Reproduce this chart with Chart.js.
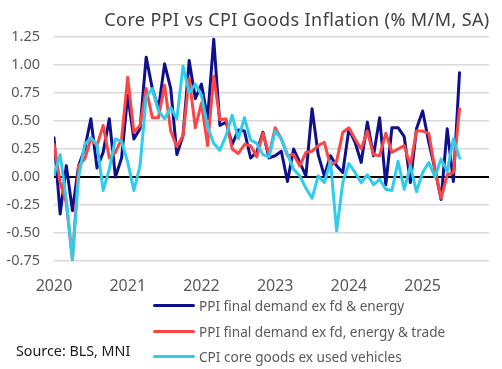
<!DOCTYPE html>
<html>
<head>
<meta charset="utf-8">
<script src="https://cdn.jsdelivr.net/npm/chart.js@4"></script>
<style>
  html, body { margin: 0; padding: 0; background: #fff; }
  #wrap { position: relative; width: 502px; height: 369px; font-family: "Noto Sans", sans-serif; }
  #title { position: absolute; left: 297px; top: 7px; transform: translateX(-50%); white-space: nowrap;
           font-size: 18px; letter-spacing: 0.4px; color: #404040; }
  #legend { position: absolute; left: 153px; top: 293px; }
  .row { display: flex; align-items: center; height: 25.5px; font-size: 13.6px; color: #595959; white-space: nowrap; }
  .swatch { width: 42px; height: 3px; margin-right: 4px; border-radius: 1.5px; }
  #source { position: absolute; left: 16px; top: 341px; font-size: 14.3px; color: #1a1a1a; white-space: nowrap; }
</style>
</head>
<body>
<div id="wrap">
  <canvas id="chart" width="502" height="369"></canvas>
  <div id="title">Core PPI vs CPI Goods Inflation (% M/M, SA)</div>
  <div id="legend"></div>
  <div id="source">Source: BLS, MNI</div>
</div>
<script>
// monthly, Jan 2020 .. Jul 2025
const years = ['2020', '2021', '2022', '2023', '2024', '2025'];

const ppiCore = [
  0.35, -0.33, 0.10, -0.30, 0.10, 0.25, 0.52, 0.08, 0.22, 0.52, 0.00, 0.17,
  0.73, 0.34, 0.43, 1.07, 0.79, 0.61, 1.01, 0.79, 0.20, 0.37, 1.04, 0.70,
  0.83, 0.52, 1.23, 0.46, 0.49, 0.29, 0.42, 0.41, 0.17, 0.22, 0.40, 0.17,
  0.19, 0.23, -0.04, 0.25, 0.13, 0.01, 0.61, 0.20, 0.01, 0.19, 0.10, 0.04,
  0.43, 0.31, 0.13, 0.49, 0.19, 0.53, -0.07, 0.44, 0.44, 0.36, -0.05, 0.43,
  0.59, 0.31, 0.07, -0.20, 0.43, -0.04, 0.93
];
const ppiExTrade = [
  0.29, -0.05, -0.23, -0.74, 0.10, 0.16, 0.34, 0.28, 0.46, 0.17, 0.22, 0.34,
  0.89, 0.40, 0.46, 0.79, 0.53, 0.53, 0.82, 0.41, 0.27, 0.37, 0.88, 0.44,
  0.66, 0.28, 0.90, 0.51, 0.52, 0.25, 0.21, 0.29, 0.28, 0.18, 0.39, 0.20,
  0.44, 0.34, 0.19, 0.20, 0.10, 0.22, 0.23, 0.28, 0.31, 0.10, 0.14, 0.40,
  0.44, 0.34, 0.25, 0.41, 0.20, 0.19, 0.39, 0.22, 0.25, 0.28, 0.10, 0.41,
  0.41, 0.39, 0.07, -0.19, 0.02, 0.04, 0.61
];
const cpiGoods = [
  0.02, 0.20, -0.20, -0.74, 0.00, 0.29, 0.35, 0.29, -0.12, 0.07, 0.34, 0.32,
  0.13, -0.12, 0.10, 0.71, 0.79, 0.59, 0.52, 0.62, 0.52, 0.99, 0.75, 0.83,
  0.73, 0.45, 0.30, 0.24, 0.37, 0.55, 0.34, 0.53, 0.33, 0.30, 0.20, 0.18,
  0.41, 0.34, 0.20, 0.07, 0.01, -0.10, -0.19, 0.01, -0.05, 0.14, -0.48, -0.05,
  0.12, 0.04, -0.05, 0.02, -0.07, -0.02, -0.11, -0.12, 0.14, -0.11, 0.10, -0.13,
  0.04, 0.13, 0.00, 0.16, 0.05, 0.34, 0.17
];

const seriesNames = [
  'PPI final demand ex fd & energy',
  'PPI final demand ex fd, energy & trade',
  'CPI core goods ex used vehicles'
];
const seriesColors = ['#10108c', '#fb4646', '#2fcdea'];
const seriesValues = [ppiCore, ppiExTrade, cpiGoods];

const toPoints = arr => arr.map((v, i) => ({ x: i, y: v }));

const datasets = seriesValues.map((vals, k) => ({
  label: seriesNames[k],
  data: toPoints(vals),
  borderColor: seriesColors[k],
  borderWidth: 3,
  pointRadius: 0,
  tension: 0,
  borderJoinStyle: 'round',
  borderCapStyle: 'round',
  order: 3 - k
}));

// html legend
const legend = document.getElementById('legend');
seriesNames.forEach((name, k) => {
  const row = document.createElement('div');
  row.className = 'row';
  row.innerHTML = '<span class="swatch" style="background:' + seriesColors[k] + '"></span>' + name;
  legend.appendChild(row);
});

const ctx = document.getElementById('chart').getContext('2d');
new Chart(ctx, {
  type: 'line',
  data: { datasets },
  options: {
    responsive: false,
    animation: false,
    layout: { padding: { top: 37, right: 13, bottom: 0, left: 0 } },
    plugins: {
      legend: { display: false },
      title: { display: false },
      tooltip: { enabled: false }
    },
    scales: {
      x: {
        type: 'linear',
        min: 0,
        max: 70.8,
        border: { display: false },
        grid: { display: false, drawTicks: false },
        ticks: {
          stepSize: 12,
          includeBounds: false,
          autoSkip: false,
          maxRotation: 0,
          padding: 16,
          color: '#595959',
          font: { family: 'Noto Sans', size: 16 },
          callback: v => (v % 12 === 0 ? years[v / 12] : '')
        },
        afterFit: scale => { scale.height = 108; }
      },
      y: {
        min: -0.75,
        max: 1.25,
        border: { display: false },
        grid: {
          drawTicks: false,
          color: c => (c.tick && c.tick.value === 0 ? '#000000' : '#d9d9d9'),
          lineWidth: c => (c.tick && c.tick.value === 0 ? 2 : 1.5)
        },
        ticks: {
          stepSize: 0.25,
          padding: 14,
          color: '#595959',
          font: { family: 'Noto Sans', size: 14.5 },
          callback: v => v.toFixed(2)
        },
        afterFit: scale => { scale.width = 54; }
      }
    }
  }
});
</script>
</body>
</html>
